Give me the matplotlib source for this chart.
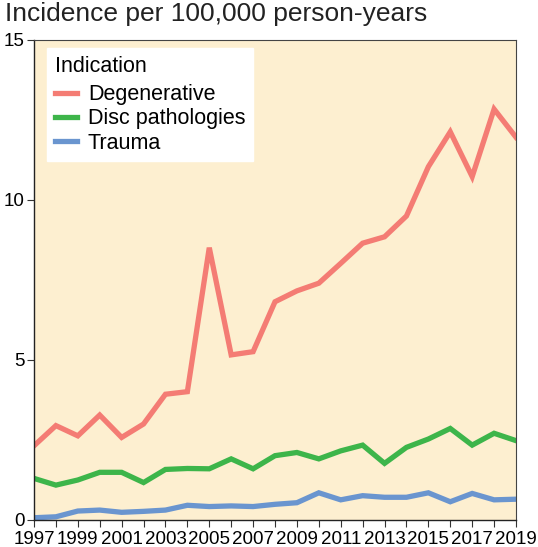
import matplotlib
matplotlib.use('Agg')
import matplotlib.pyplot as plt
from matplotlib.ticker import MultipleLocator

plt.rcParams['font.family'] = ['Liberation Sans', 'DejaVu Sans']

years = list(range(1997, 2020))

degenerative = [2.32, 2.95, 2.63, 3.28, 2.58, 3.00, 3.93, 4.01, 8.51, 5.16, 5.26, 6.82,
                7.16, 7.40, 8.02, 8.65, 8.85, 9.50, 11.04, 12.13, 10.73, 12.84, 11.96]
disc_pathologies = [1.30, 1.09, 1.25, 1.49, 1.49, 1.17, 1.58, 1.61, 1.60, 1.91, 1.60, 2.01,
                    2.11, 1.91, 2.16, 2.34, 1.77, 2.27, 2.53, 2.86, 2.34, 2.71, 2.48]
trauma = [0.07, 0.10, 0.28, 0.31, 0.24, 0.27, 0.31, 0.46, 0.42, 0.44, 0.42, 0.49,
          0.54, 0.85, 0.63, 0.76, 0.71, 0.71, 0.85, 0.57, 0.83, 0.63, 0.65]

series_names = ['Degenerative', 'Disc pathologies', 'Trauma']
series_colors = ['#F47C74', '#3DB54A', '#6A95CF']

fig = plt.figure(figsize=(5.38, 5.47), dpi=100)
ax = fig.add_axes([34 / 538, 1 - 520 / 547, 482 / 538, 480 / 547])
ax.set_facecolor('#FDEFD0')

for values, name, color in zip([degenerative, disc_pathologies, trauma], series_names, series_colors):
    ax.plot(years, values, color=color, lw=3.8, label=name, solid_joinstyle='miter')

ax.set_xlim(1997, 2019)
ax.set_ylim(0, 15)
ax.set_xticks(years[::2])
ax.xaxis.set_minor_locator(MultipleLocator(1))
ax.set_yticks([0, 5, 10, 15])
ax.tick_params(axis='both', which='both', direction='out', length=5, width=0.8,
               color='#333333', labelsize=13.5, pad=2)
ax.tick_params(axis='x', which='major', pad=3)
for side in ['left', 'bottom']:
    ax.spines[side].set_color('#222222')
    ax.spines[side].set_linewidth(1.0)
for side in ['top', 'right']:
    ax.spines[side].set_color('#444444')
    ax.spines[side].set_linewidth(0.8)

# legend box in the reference runs from about (47, 49) to (263, 159) px
leg = ax.legend(title='Indication', loc='upper left', bbox_to_anchor=(13 / 482, 1 - 8 / 480),
                frameon=True, fancybox=False, fontsize=15.5, title_fontsize=15.5,
                handlelength=1.05, handletextpad=0.5, labelspacing=0.15,
                borderpad=0.35, borderaxespad=0)
leg.get_frame().set_facecolor('white')
leg.get_frame().set_edgecolor('white')
leg.get_frame().set_alpha(1)
leg._legend_box.align = 'left'
leg._legend_box.sep = 5.5

fig.text(5 / 538, 1 - 2 / 547, 'Incidence per 100,000 person-years', fontsize=19,
         ha='left', va='top', color='#222222')

fig.savefig('out.png', dpi=100)
